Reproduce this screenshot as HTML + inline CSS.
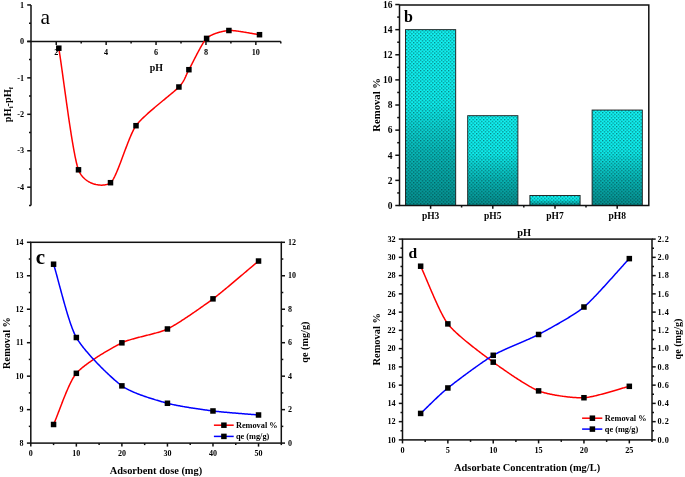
<!DOCTYPE html>
<html><head><meta charset="utf-8"><style>
html,body{margin:0;padding:0;background:#fff;}
body{width:685px;height:477px;overflow:hidden;}
svg{display:block;font-family:"Liberation Serif", serif;}
svg{will-change:transform;}
</style></head><body>
<svg width="685" height="477" viewBox="0 0 685 477">
<rect width="685" height="477" fill="#fff"/>
<line x1="31.00" y1="4.95" x2="31.00" y2="205.43" stroke="#111" stroke-width="1.5"/>
<line x1="27.20" y1="4.95" x2="31.00" y2="4.95" stroke="#111" stroke-width="1.5"/>
<text x="24.10" y="7.65" font-size="8.2" text-anchor="end" font-weight="bold">1</text>
<line x1="27.20" y1="41.40" x2="31.00" y2="41.40" stroke="#111" stroke-width="1.5"/>
<text x="24.10" y="44.10" font-size="8.2" text-anchor="end" font-weight="bold">0</text>
<line x1="27.20" y1="77.85" x2="31.00" y2="77.85" stroke="#111" stroke-width="1.5"/>
<text x="24.10" y="80.55" font-size="8.2" text-anchor="end" font-weight="bold">-1</text>
<line x1="27.20" y1="114.30" x2="31.00" y2="114.30" stroke="#111" stroke-width="1.5"/>
<text x="24.10" y="117.00" font-size="8.2" text-anchor="end" font-weight="bold">-2</text>
<line x1="27.20" y1="150.75" x2="31.00" y2="150.75" stroke="#111" stroke-width="1.5"/>
<text x="24.10" y="153.45" font-size="8.2" text-anchor="end" font-weight="bold">-3</text>
<line x1="27.20" y1="187.20" x2="31.00" y2="187.20" stroke="#111" stroke-width="1.5"/>
<text x="24.10" y="189.90" font-size="8.2" text-anchor="end" font-weight="bold">-4</text>
<line x1="29.00" y1="23.17" x2="31.00" y2="23.17" stroke="#111" stroke-width="1.5"/>
<line x1="29.00" y1="59.62" x2="31.00" y2="59.62" stroke="#111" stroke-width="1.5"/>
<line x1="29.00" y1="96.08" x2="31.00" y2="96.08" stroke="#111" stroke-width="1.5"/>
<line x1="29.00" y1="132.53" x2="31.00" y2="132.53" stroke="#111" stroke-width="1.5"/>
<line x1="29.00" y1="168.98" x2="31.00" y2="168.98" stroke="#111" stroke-width="1.5"/>
<line x1="29.00" y1="205.43" x2="31.00" y2="205.43" stroke="#111" stroke-width="1.5"/>
<line x1="27.20" y1="41.40" x2="280.80" y2="41.40" stroke="#111" stroke-width="1.5"/>
<line x1="56.25" y1="41.40" x2="56.25" y2="44.90" stroke="#111" stroke-width="1.5"/>
<text x="56.25" y="54.80" font-size="8.2" text-anchor="middle" font-weight="bold">2</text>
<line x1="106.15" y1="41.40" x2="106.15" y2="44.90" stroke="#111" stroke-width="1.5"/>
<text x="106.15" y="54.80" font-size="8.2" text-anchor="middle" font-weight="bold">4</text>
<line x1="156.05" y1="41.40" x2="156.05" y2="44.90" stroke="#111" stroke-width="1.5"/>
<text x="156.05" y="54.80" font-size="8.2" text-anchor="middle" font-weight="bold">6</text>
<line x1="205.95" y1="41.40" x2="205.95" y2="44.90" stroke="#111" stroke-width="1.5"/>
<text x="205.95" y="54.80" font-size="8.2" text-anchor="middle" font-weight="bold">8</text>
<line x1="255.85" y1="41.40" x2="255.85" y2="44.90" stroke="#111" stroke-width="1.5"/>
<text x="255.85" y="54.80" font-size="8.2" text-anchor="middle" font-weight="bold">10</text>
<line x1="81.20" y1="41.40" x2="81.20" y2="43.40" stroke="#111" stroke-width="1.5"/>
<line x1="131.10" y1="41.40" x2="131.10" y2="43.40" stroke="#111" stroke-width="1.5"/>
<line x1="181.00" y1="41.40" x2="181.00" y2="43.40" stroke="#111" stroke-width="1.5"/>
<line x1="230.90" y1="41.40" x2="230.90" y2="43.40" stroke="#111" stroke-width="1.5"/>
<line x1="280.80" y1="41.40" x2="280.80" y2="43.40" stroke="#111" stroke-width="1.5"/>
<text x="156.30" y="71.00" font-size="9.9" text-anchor="middle" font-weight="bold">pH</text>
<text x="0" y="0" font-size="10.4" font-weight="bold" text-anchor="middle" transform="translate(11.0 104.6) rotate(-90)">pH<tspan font-size="6.5" dy="2.4">i</tspan><tspan dy="-2.4">-pH</tspan><tspan font-size="6.5" dy="2.4">f</tspan></text>
<text x="40.40" y="23.80" font-size="21.5" text-anchor="start" font-weight="normal">a</text>
<path d="M58.80,48.20 L59.04,49.68 L59.28,51.25 L59.53,52.89 L59.79,54.61 L60.06,56.41 L60.33,58.26 L60.61,60.19 L60.90,62.18 L61.19,64.22 L61.49,66.32 L61.79,68.48 L62.10,70.68 L62.41,72.93 L62.73,75.22 L63.05,77.55 L63.38,79.92 L63.71,82.32 L64.04,84.74 L64.38,87.20 L64.72,89.68 L65.07,92.18 L65.42,94.69 L65.77,97.22 L66.13,99.76 L66.48,102.30 L66.84,104.85 L67.20,107.40 L67.56,109.95 L67.93,112.49 L68.29,115.02 L68.66,117.54 L69.03,120.04 L69.40,122.53 L69.77,124.99 L70.14,127.42 L70.51,129.83 L70.87,132.21 L71.24,134.55 L71.61,136.85 L71.98,139.11 L72.34,141.32 L72.71,143.49 L73.07,145.60 L73.43,147.66 L73.79,149.67 L74.15,151.61 L74.51,153.48 L74.86,155.29 L75.21,157.03 L75.55,158.70 L75.90,160.28 L76.24,161.79 L76.57,163.21 L76.91,164.55 L77.23,165.79 L77.56,166.94 L77.88,168.00 L78.19,168.95 L78.50,169.80 L78.50,169.80 L78.82,170.59 L79.16,171.35 L79.52,172.09 L79.90,172.81 L80.30,173.51 L80.72,174.18 L81.16,174.83 L81.62,175.46 L82.09,176.07 L82.58,176.66 L83.09,177.22 L83.61,177.77 L84.14,178.29 L84.68,178.80 L85.24,179.28 L85.81,179.74 L86.39,180.18 L86.98,180.60 L87.58,181.00 L88.19,181.39 L88.81,181.75 L89.43,182.09 L90.06,182.42 L90.69,182.72 L91.33,183.01 L91.97,183.27 L92.62,183.52 L93.27,183.75 L93.92,183.96 L94.57,184.16 L95.22,184.33 L95.88,184.49 L96.53,184.63 L97.17,184.76 L97.82,184.86 L98.46,184.95 L99.10,185.02 L99.73,185.08 L100.36,185.12 L100.97,185.14 L101.59,185.15 L102.19,185.14 L102.79,185.11 L103.37,185.07 L103.95,185.02 L104.51,184.95 L105.07,184.86 L105.61,184.76 L106.13,184.64 L106.65,184.51 L107.14,184.36 L107.63,184.20 L108.09,184.03 L108.54,183.84 L108.97,183.64 L109.38,183.43 L109.78,183.20 L110.15,182.96 L110.50,182.70 L110.50,182.70 L110.84,182.41 L111.20,182.06 L111.55,181.65 L111.92,181.18 L112.29,180.67 L112.67,180.10 L113.05,179.48 L113.44,178.81 L113.83,178.10 L114.23,177.34 L114.64,176.54 L115.04,175.70 L115.46,174.82 L115.88,173.90 L116.30,172.95 L116.72,171.97 L117.15,170.96 L117.59,169.91 L118.03,168.84 L118.47,167.75 L118.91,166.63 L119.36,165.49 L119.81,164.33 L120.26,163.16 L120.71,161.96 L121.17,160.76 L121.62,159.54 L122.08,158.31 L122.54,157.08 L123.00,155.84 L123.47,154.59 L123.93,153.34 L124.39,152.09 L124.86,150.85 L125.32,149.60 L125.79,148.36 L126.25,147.13 L126.72,145.91 L127.18,144.70 L127.64,143.50 L128.10,142.32 L128.56,141.15 L129.02,140.00 L129.48,138.87 L129.93,137.77 L130.39,136.68 L130.84,135.63 L131.29,134.60 L131.73,133.60 L132.18,132.64 L132.62,131.71 L133.05,130.81 L133.48,129.95 L133.91,129.14 L134.34,128.36 L134.76,127.62 L135.18,126.93 L135.59,126.29 L136.00,125.70 L136.00,125.70 L136.42,125.12 L136.88,124.53 L137.37,123.92 L137.90,123.30 L138.45,122.66 L139.03,122.01 L139.64,121.35 L140.28,120.68 L140.95,119.99 L141.64,119.29 L142.35,118.59 L143.08,117.87 L143.84,117.15 L144.61,116.42 L145.40,115.68 L146.21,114.93 L147.03,114.18 L147.87,113.42 L148.72,112.66 L149.59,111.90 L150.46,111.14 L151.34,110.37 L152.23,109.60 L153.13,108.83 L154.03,108.06 L154.94,107.29 L155.85,106.52 L156.76,105.76 L157.67,104.99 L158.58,104.23 L159.49,103.48 L160.40,102.73 L161.30,101.99 L162.19,101.25 L163.08,100.52 L163.96,99.80 L164.83,99.08 L165.68,98.38 L166.53,97.68 L167.36,97.00 L168.18,96.33 L168.98,95.67 L169.76,95.02 L170.53,94.39 L171.27,93.77 L172.00,93.17 L172.70,92.58 L173.37,92.01 L174.03,91.45 L174.65,90.91 L175.25,90.40 L175.82,89.90 L176.36,89.42 L176.87,88.96 L177.35,88.52 L177.79,88.11 L178.20,87.71 L178.57,87.34 L178.90,87.00 L178.90,87.00 L179.21,86.67 L179.51,86.34 L179.80,86.01 L180.08,85.69 L180.35,85.37 L180.62,85.05 L180.87,84.73 L181.12,84.42 L181.36,84.10 L181.60,83.79 L181.82,83.48 L182.04,83.17 L182.26,82.87 L182.46,82.56 L182.66,82.26 L182.85,81.96 L183.04,81.66 L183.23,81.36 L183.40,81.07 L183.57,80.77 L183.74,80.48 L183.90,80.19 L184.06,79.90 L184.22,79.61 L184.37,79.32 L184.51,79.03 L184.66,78.74 L184.80,78.45 L184.93,78.17 L185.07,77.88 L185.20,77.60 L185.33,77.32 L185.46,77.03 L185.59,76.75 L185.71,76.47 L185.84,76.19 L185.96,75.91 L186.08,75.63 L186.20,75.35 L186.32,75.07 L186.44,74.79 L186.57,74.51 L186.69,74.23 L186.81,73.95 L186.93,73.67 L187.06,73.39 L187.19,73.11 L187.31,72.82 L187.44,72.54 L187.58,72.26 L187.71,71.98 L187.85,71.70 L187.99,71.41 L188.13,71.13 L188.28,70.85 L188.43,70.56 L188.58,70.27 L188.74,69.99 L188.90,69.70 L188.90,69.70 L189.07,69.40 L189.25,69.07 L189.44,68.72 L189.64,68.34 L189.86,67.95 L190.08,67.53 L190.31,67.09 L190.55,66.62 L190.80,66.14 L191.05,65.65 L191.32,65.13 L191.59,64.60 L191.87,64.05 L192.15,63.49 L192.45,62.92 L192.75,62.33 L193.05,61.73 L193.36,61.12 L193.68,60.50 L194.00,59.87 L194.32,59.23 L194.65,58.59 L194.98,57.94 L195.32,57.29 L195.66,56.63 L196.00,55.97 L196.34,55.30 L196.69,54.64 L197.04,53.97 L197.39,53.31 L197.74,52.64 L198.09,51.98 L198.44,51.32 L198.79,50.67 L199.14,50.02 L199.49,49.38 L199.84,48.74 L200.19,48.11 L200.54,47.49 L200.88,46.88 L201.23,46.28 L201.57,45.70 L201.90,45.12 L202.24,44.56 L202.57,44.01 L202.89,43.48 L203.21,42.97 L203.53,42.47 L203.84,41.99 L204.15,41.53 L204.45,41.09 L204.74,40.67 L205.03,40.27 L205.31,39.90 L205.58,39.55 L205.85,39.22 L206.11,38.92 L206.36,38.65 L206.60,38.40 L206.60,38.40 L206.84,38.17 L207.10,37.94 L207.36,37.72 L207.64,37.49 L207.93,37.27 L208.22,37.06 L208.53,36.84 L208.84,36.63 L209.17,36.43 L209.50,36.22 L209.84,36.02 L210.19,35.82 L210.55,35.63 L210.91,35.44 L211.28,35.25 L211.65,35.07 L212.04,34.88 L212.43,34.71 L212.82,34.53 L213.22,34.36 L213.62,34.19 L214.03,34.02 L214.44,33.86 L214.85,33.70 L215.27,33.55 L215.69,33.40 L216.12,33.25 L216.54,33.11 L216.97,32.97 L217.40,32.83 L217.83,32.70 L218.26,32.57 L218.69,32.44 L219.12,32.32 L219.56,32.20 L219.99,32.08 L220.42,31.97 L220.84,31.86 L221.27,31.76 L221.70,31.66 L222.12,31.56 L222.54,31.47 L222.95,31.38 L223.37,31.29 L223.77,31.21 L224.18,31.14 L224.58,31.06 L224.97,30.99 L225.36,30.93 L225.75,30.87 L226.13,30.81 L226.50,30.76 L226.87,30.71 L227.22,30.66 L227.58,30.62 L227.92,30.58 L228.25,30.55 L228.58,30.52 L228.90,30.50 L228.90,30.50 L229.22,30.48 L229.57,30.47 L229.92,30.46 L230.30,30.47 L230.70,30.47 L231.11,30.49 L231.53,30.51 L231.97,30.53 L232.42,30.56 L232.89,30.60 L233.37,30.64 L233.87,30.69 L234.37,30.74 L234.89,30.79 L235.41,30.85 L235.95,30.91 L236.49,30.98 L237.05,31.05 L237.61,31.13 L238.18,31.21 L238.76,31.29 L239.34,31.37 L239.93,31.46 L240.52,31.55 L241.12,31.64 L241.72,31.73 L242.32,31.83 L242.93,31.92 L243.53,32.02 L244.14,32.12 L244.75,32.22 L245.36,32.32 L245.97,32.43 L246.58,32.53 L247.18,32.63 L247.78,32.74 L248.38,32.84 L248.98,32.94 L249.57,33.05 L250.15,33.15 L250.74,33.25 L251.31,33.35 L251.88,33.45 L252.44,33.55 L252.99,33.64 L253.53,33.74 L254.06,33.83 L254.59,33.92 L255.10,34.00 L255.60,34.09 L256.09,34.17 L256.57,34.25 L257.03,34.33 L257.48,34.40 L257.91,34.47 L258.33,34.53 L258.74,34.59 L259.13,34.65 L259.50,34.70" stroke="#ff0000" stroke-width="1.5" fill="none" stroke-linejoin="round"/>
<rect x="56.05" y="45.45" width="5.5" height="5.5" fill="#000"/>
<rect x="75.75" y="167.05" width="5.5" height="5.5" fill="#000"/>
<rect x="107.75" y="179.95" width="5.5" height="5.5" fill="#000"/>
<rect x="133.25" y="122.95" width="5.5" height="5.5" fill="#000"/>
<rect x="176.15" y="84.25" width="5.5" height="5.5" fill="#000"/>
<rect x="186.15" y="66.95" width="5.5" height="5.5" fill="#000"/>
<rect x="203.85" y="35.65" width="5.5" height="5.5" fill="#000"/>
<rect x="226.15" y="27.75" width="5.5" height="5.5" fill="#000"/>
<rect x="256.75" y="31.95" width="5.5" height="5.5" fill="#000"/>
<defs>
<linearGradient id="bg" x1="0" y1="0" x2="0" y2="1">
<stop offset="0" stop-color="#12f4f4"/>
<stop offset="0.42" stop-color="#0eeeee"/>
<stop offset="0.7" stop-color="#08b8b8"/>
<stop offset="1" stop-color="#068c8c"/>
</linearGradient>
<pattern id="dots" width="3.5" height="3.5" patternUnits="userSpaceOnUse">
<rect x="0" y="0" width="1.3" height="1.3" fill="#003333" fill-opacity="0.6"/>
<rect x="1.75" y="1.75" width="1.3" height="1.3" fill="#003333" fill-opacity="0.6"/>
</pattern>
</defs>
<rect x="405.50" y="29.66" width="50.2" height="175.84" fill="url(#bg)"/>
<rect x="405.50" y="29.66" width="50.2" height="175.84" fill="url(#dots)"/>
<rect x="405.50" y="29.66" width="50.2" height="175.84" fill="none" stroke="#1a1a1a" stroke-width="0.9"/>
<rect x="467.70" y="115.70" width="50.2" height="89.80" fill="url(#bg)"/>
<rect x="467.70" y="115.70" width="50.2" height="89.80" fill="url(#dots)"/>
<rect x="467.70" y="115.70" width="50.2" height="89.80" fill="none" stroke="#1a1a1a" stroke-width="0.9"/>
<rect x="529.90" y="195.45" width="50.2" height="10.05" fill="url(#bg)"/>
<rect x="529.90" y="195.45" width="50.2" height="10.05" fill="url(#dots)"/>
<rect x="529.90" y="195.45" width="50.2" height="10.05" fill="none" stroke="#1a1a1a" stroke-width="0.9"/>
<rect x="592.10" y="110.04" width="50.2" height="95.46" fill="url(#bg)"/>
<rect x="592.10" y="110.04" width="50.2" height="95.46" fill="url(#dots)"/>
<rect x="592.10" y="110.04" width="50.2" height="95.46" fill="none" stroke="#1a1a1a" stroke-width="0.9"/>
<rect x="399.5" y="5.0" width="249.30" height="200.50" fill="none" stroke="#111" stroke-width="1.5"/>
<line x1="395.30" y1="205.50" x2="399.50" y2="205.50" stroke="#111" stroke-width="1.5"/>
<text x="392.50" y="208.80" font-size="9.5" text-anchor="end" font-weight="bold">0</text>
<line x1="395.30" y1="180.38" x2="399.50" y2="180.38" stroke="#111" stroke-width="1.5"/>
<text x="392.50" y="183.68" font-size="9.5" text-anchor="end" font-weight="bold">2</text>
<line x1="395.30" y1="155.26" x2="399.50" y2="155.26" stroke="#111" stroke-width="1.5"/>
<text x="392.50" y="158.56" font-size="9.5" text-anchor="end" font-weight="bold">4</text>
<line x1="395.30" y1="130.14" x2="399.50" y2="130.14" stroke="#111" stroke-width="1.5"/>
<text x="392.50" y="133.44" font-size="9.5" text-anchor="end" font-weight="bold">6</text>
<line x1="395.30" y1="105.02" x2="399.50" y2="105.02" stroke="#111" stroke-width="1.5"/>
<text x="392.50" y="108.32" font-size="9.5" text-anchor="end" font-weight="bold">8</text>
<line x1="395.30" y1="79.90" x2="399.50" y2="79.90" stroke="#111" stroke-width="1.5"/>
<text x="392.50" y="83.20" font-size="9.5" text-anchor="end" font-weight="bold">10</text>
<line x1="395.30" y1="54.78" x2="399.50" y2="54.78" stroke="#111" stroke-width="1.5"/>
<text x="392.50" y="58.08" font-size="9.5" text-anchor="end" font-weight="bold">12</text>
<line x1="395.30" y1="29.66" x2="399.50" y2="29.66" stroke="#111" stroke-width="1.5"/>
<text x="392.50" y="32.96" font-size="9.5" text-anchor="end" font-weight="bold">14</text>
<line x1="395.30" y1="4.54" x2="399.50" y2="4.54" stroke="#111" stroke-width="1.5"/>
<text x="392.50" y="7.84" font-size="9.5" text-anchor="end" font-weight="bold">16</text>
<line x1="397.20" y1="192.94" x2="399.50" y2="192.94" stroke="#111" stroke-width="1.5"/>
<line x1="397.20" y1="167.82" x2="399.50" y2="167.82" stroke="#111" stroke-width="1.5"/>
<line x1="397.20" y1="142.70" x2="399.50" y2="142.70" stroke="#111" stroke-width="1.5"/>
<line x1="397.20" y1="117.58" x2="399.50" y2="117.58" stroke="#111" stroke-width="1.5"/>
<line x1="397.20" y1="92.46" x2="399.50" y2="92.46" stroke="#111" stroke-width="1.5"/>
<line x1="397.20" y1="67.34" x2="399.50" y2="67.34" stroke="#111" stroke-width="1.5"/>
<line x1="397.20" y1="42.22" x2="399.50" y2="42.22" stroke="#111" stroke-width="1.5"/>
<line x1="397.20" y1="17.10" x2="399.50" y2="17.10" stroke="#111" stroke-width="1.5"/>
<line x1="430.60" y1="205.50" x2="430.60" y2="208.80" stroke="#111" stroke-width="1.5"/>
<text x="430.60" y="219.40" font-size="9.5" text-anchor="middle" font-weight="bold">pH3</text>
<line x1="492.80" y1="205.50" x2="492.80" y2="208.80" stroke="#111" stroke-width="1.5"/>
<text x="492.80" y="219.40" font-size="9.5" text-anchor="middle" font-weight="bold">pH5</text>
<line x1="555.00" y1="205.50" x2="555.00" y2="208.80" stroke="#111" stroke-width="1.5"/>
<text x="555.00" y="219.40" font-size="9.5" text-anchor="middle" font-weight="bold">pH7</text>
<line x1="617.20" y1="205.50" x2="617.20" y2="208.80" stroke="#111" stroke-width="1.5"/>
<text x="617.20" y="219.40" font-size="9.5" text-anchor="middle" font-weight="bold">pH8</text>
<line x1="461.60" y1="205.50" x2="461.60" y2="207.50" stroke="#111" stroke-width="1.5"/>
<line x1="523.80" y1="205.50" x2="523.80" y2="207.50" stroke="#111" stroke-width="1.5"/>
<line x1="586.00" y1="205.50" x2="586.00" y2="207.50" stroke="#111" stroke-width="1.5"/>
<text x="524.20" y="236.30" font-size="10.3" text-anchor="middle" font-weight="bold">pH</text>
<text x="379.80" y="104.80" font-size="10.7" text-anchor="middle" font-weight="bold" transform="rotate(-90 379.80 104.80)">Removal %</text>
<text x="404.00" y="22.00" font-size="16" text-anchor="start" font-weight="bold">b</text>
<rect x="30.8" y="242.3" width="250.50" height="200.80" fill="none" stroke="#111" stroke-width="1.5"/>
<line x1="26.90" y1="443.10" x2="30.80" y2="443.10" stroke="#111" stroke-width="1.5"/>
<text x="23.60" y="445.70" font-size="8.0" text-anchor="end" font-weight="bold">8</text>
<line x1="26.90" y1="409.63" x2="30.80" y2="409.63" stroke="#111" stroke-width="1.5"/>
<text x="23.60" y="412.23" font-size="8.0" text-anchor="end" font-weight="bold">9</text>
<line x1="26.90" y1="376.17" x2="30.80" y2="376.17" stroke="#111" stroke-width="1.5"/>
<text x="23.60" y="378.77" font-size="8.0" text-anchor="end" font-weight="bold">10</text>
<line x1="26.90" y1="342.70" x2="30.80" y2="342.70" stroke="#111" stroke-width="1.5"/>
<text x="23.60" y="345.30" font-size="8.0" text-anchor="end" font-weight="bold">11</text>
<line x1="26.90" y1="309.23" x2="30.80" y2="309.23" stroke="#111" stroke-width="1.5"/>
<text x="23.60" y="311.83" font-size="8.0" text-anchor="end" font-weight="bold">12</text>
<line x1="26.90" y1="275.77" x2="30.80" y2="275.77" stroke="#111" stroke-width="1.5"/>
<text x="23.60" y="278.37" font-size="8.0" text-anchor="end" font-weight="bold">13</text>
<line x1="26.90" y1="242.30" x2="30.80" y2="242.30" stroke="#111" stroke-width="1.5"/>
<text x="23.60" y="244.90" font-size="8.0" text-anchor="end" font-weight="bold">14</text>
<line x1="28.80" y1="426.37" x2="30.80" y2="426.37" stroke="#111" stroke-width="1.5"/>
<line x1="28.80" y1="392.90" x2="30.80" y2="392.90" stroke="#111" stroke-width="1.5"/>
<line x1="28.80" y1="359.43" x2="30.80" y2="359.43" stroke="#111" stroke-width="1.5"/>
<line x1="28.80" y1="325.97" x2="30.80" y2="325.97" stroke="#111" stroke-width="1.5"/>
<line x1="28.80" y1="292.50" x2="30.80" y2="292.50" stroke="#111" stroke-width="1.5"/>
<line x1="28.80" y1="259.03" x2="30.80" y2="259.03" stroke="#111" stroke-width="1.5"/>
<line x1="281.30" y1="443.10" x2="285.00" y2="443.10" stroke="#111" stroke-width="1.5"/>
<text x="288.00" y="445.70" font-size="8.0" text-anchor="start" font-weight="bold">0</text>
<line x1="281.30" y1="409.63" x2="285.00" y2="409.63" stroke="#111" stroke-width="1.5"/>
<text x="288.00" y="412.23" font-size="8.0" text-anchor="start" font-weight="bold">2</text>
<line x1="281.30" y1="376.17" x2="285.00" y2="376.17" stroke="#111" stroke-width="1.5"/>
<text x="288.00" y="378.77" font-size="8.0" text-anchor="start" font-weight="bold">4</text>
<line x1="281.30" y1="342.70" x2="285.00" y2="342.70" stroke="#111" stroke-width="1.5"/>
<text x="288.00" y="345.30" font-size="8.0" text-anchor="start" font-weight="bold">6</text>
<line x1="281.30" y1="309.23" x2="285.00" y2="309.23" stroke="#111" stroke-width="1.5"/>
<text x="288.00" y="311.83" font-size="8.0" text-anchor="start" font-weight="bold">8</text>
<line x1="281.30" y1="275.77" x2="285.00" y2="275.77" stroke="#111" stroke-width="1.5"/>
<text x="288.00" y="278.37" font-size="8.0" text-anchor="start" font-weight="bold">10</text>
<line x1="281.30" y1="242.30" x2="285.00" y2="242.30" stroke="#111" stroke-width="1.5"/>
<text x="288.00" y="244.90" font-size="8.0" text-anchor="start" font-weight="bold">12</text>
<line x1="281.30" y1="426.37" x2="283.30" y2="426.37" stroke="#111" stroke-width="1.5"/>
<line x1="281.30" y1="392.90" x2="283.30" y2="392.90" stroke="#111" stroke-width="1.5"/>
<line x1="281.30" y1="359.43" x2="283.30" y2="359.43" stroke="#111" stroke-width="1.5"/>
<line x1="281.30" y1="325.97" x2="283.30" y2="325.97" stroke="#111" stroke-width="1.5"/>
<line x1="281.30" y1="292.50" x2="283.30" y2="292.50" stroke="#111" stroke-width="1.5"/>
<line x1="281.30" y1="259.03" x2="283.30" y2="259.03" stroke="#111" stroke-width="1.5"/>
<line x1="30.80" y1="443.10" x2="30.80" y2="446.60" stroke="#111" stroke-width="1.5"/>
<text x="30.80" y="456.10" font-size="8.0" text-anchor="middle" font-weight="bold">0</text>
<line x1="76.35" y1="443.10" x2="76.35" y2="446.60" stroke="#111" stroke-width="1.5"/>
<text x="76.35" y="456.10" font-size="8.0" text-anchor="middle" font-weight="bold">10</text>
<line x1="121.89" y1="443.10" x2="121.89" y2="446.60" stroke="#111" stroke-width="1.5"/>
<text x="121.89" y="456.10" font-size="8.0" text-anchor="middle" font-weight="bold">20</text>
<line x1="167.44" y1="443.10" x2="167.44" y2="446.60" stroke="#111" stroke-width="1.5"/>
<text x="167.44" y="456.10" font-size="8.0" text-anchor="middle" font-weight="bold">30</text>
<line x1="212.98" y1="443.10" x2="212.98" y2="446.60" stroke="#111" stroke-width="1.5"/>
<text x="212.98" y="456.10" font-size="8.0" text-anchor="middle" font-weight="bold">40</text>
<line x1="258.53" y1="443.10" x2="258.53" y2="446.60" stroke="#111" stroke-width="1.5"/>
<text x="258.53" y="456.10" font-size="8.0" text-anchor="middle" font-weight="bold">50</text>
<line x1="53.57" y1="443.10" x2="53.57" y2="445.10" stroke="#111" stroke-width="1.5"/>
<line x1="99.12" y1="443.10" x2="99.12" y2="445.10" stroke="#111" stroke-width="1.5"/>
<line x1="144.66" y1="443.10" x2="144.66" y2="445.10" stroke="#111" stroke-width="1.5"/>
<line x1="190.21" y1="443.10" x2="190.21" y2="445.10" stroke="#111" stroke-width="1.5"/>
<line x1="235.75" y1="443.10" x2="235.75" y2="445.10" stroke="#111" stroke-width="1.5"/>
<line x1="281.30" y1="443.10" x2="281.30" y2="445.10" stroke="#111" stroke-width="1.5"/>
<text x="156.00" y="473.70" font-size="10.4" text-anchor="middle" font-weight="bold">Adsorbent dose (mg)</text>
<text x="9.60" y="343.00" font-size="10.3" text-anchor="middle" font-weight="bold" transform="rotate(-90 9.60 343.00)">Removal %</text>
<text x="308.40" y="342.10" font-size="10.2" text-anchor="middle" font-weight="bold" transform="rotate(-90 308.40 342.10)">qe (mg/g)</text>
<text x="35.80" y="264.20" font-size="21" text-anchor="start" font-weight="bold">c</text>
<path d="M53.57,424.49 L53.85,423.87 L54.13,423.22 L54.41,422.54 L54.71,421.83 L55.01,421.10 L55.32,420.34 L55.63,419.56 L55.95,418.75 L56.28,417.92 L56.61,417.08 L56.94,416.21 L57.29,415.32 L57.63,414.42 L57.98,413.50 L58.34,412.56 L58.70,411.62 L59.07,410.65 L59.44,409.68 L59.82,408.70 L60.19,407.70 L60.58,406.70 L60.96,405.69 L61.35,404.68 L61.75,403.66 L62.14,402.63 L62.54,401.61 L62.95,400.58 L63.35,399.55 L63.76,398.52 L64.17,397.49 L64.58,396.46 L64.99,395.44 L65.41,394.42 L65.83,393.41 L66.25,392.41 L66.67,391.41 L67.09,390.43 L67.51,389.45 L67.94,388.49 L68.36,387.54 L68.79,386.60 L69.21,385.67 L69.64,384.77 L70.07,383.88 L70.49,383.01 L70.92,382.15 L71.34,381.32 L71.77,380.51 L72.19,379.72 L72.61,378.96 L73.03,378.22 L73.45,377.50 L73.87,376.81 L74.29,376.16 L74.71,375.53 L75.12,374.93 L75.53,374.36 L75.94,373.82 L76.35,373.32 L76.35,373.32 L76.77,372.83 L77.22,372.33 L77.70,371.82 L78.22,371.30 L78.76,370.78 L79.33,370.24 L79.92,369.69 L80.55,369.14 L81.19,368.59 L81.86,368.02 L82.55,367.45 L83.27,366.87 L84.00,366.29 L84.75,365.71 L85.52,365.12 L86.31,364.53 L87.12,363.93 L87.94,363.33 L88.77,362.73 L89.62,362.13 L90.48,361.53 L91.35,360.93 L92.23,360.33 L93.12,359.72 L94.01,359.12 L94.92,358.52 L95.83,357.93 L96.74,357.33 L97.66,356.74 L98.58,356.15 L99.51,355.57 L100.43,354.99 L101.35,354.41 L102.28,353.84 L103.20,353.28 L104.11,352.72 L105.03,352.17 L105.93,351.63 L106.83,351.10 L107.73,350.57 L108.61,350.05 L109.48,349.55 L110.35,349.05 L111.20,348.56 L112.04,348.08 L112.87,347.62 L113.68,347.17 L114.47,346.72 L115.25,346.30 L116.01,345.88 L116.76,345.48 L117.48,345.10 L118.18,344.72 L118.86,344.37 L119.52,344.03 L120.15,343.70 L120.76,343.40 L121.34,343.11 L121.89,342.83 L121.89,342.83 L122.44,342.57 L123.02,342.31 L123.61,342.06 L124.23,341.80 L124.87,341.55 L125.53,341.30 L126.20,341.06 L126.90,340.81 L127.61,340.57 L128.34,340.33 L129.08,340.09 L129.84,339.85 L130.61,339.62 L131.40,339.38 L132.20,339.15 L133.01,338.92 L133.83,338.69 L134.66,338.46 L135.50,338.23 L136.34,338.01 L137.20,337.78 L138.06,337.56 L138.93,337.33 L139.80,337.11 L140.68,336.89 L141.56,336.67 L142.45,336.44 L143.33,336.22 L144.22,336.00 L145.11,335.78 L145.99,335.56 L146.88,335.34 L147.77,335.12 L148.65,334.89 L149.52,334.67 L150.40,334.45 L151.27,334.23 L152.13,334.00 L152.98,333.78 L153.83,333.55 L154.67,333.32 L155.50,333.10 L156.32,332.87 L157.13,332.64 L157.93,332.41 L158.71,332.17 L159.49,331.94 L160.24,331.70 L160.99,331.47 L161.72,331.23 L162.43,330.99 L163.12,330.74 L163.80,330.50 L164.46,330.25 L165.09,330.00 L165.71,329.75 L166.31,329.50 L166.88,329.24 L167.44,328.98 L167.44,328.98 L167.99,328.71 L168.56,328.42 L169.16,328.11 L169.78,327.78 L170.42,327.43 L171.07,327.07 L171.75,326.68 L172.44,326.29 L173.16,325.87 L173.88,325.44 L174.63,325.00 L175.39,324.54 L176.16,324.07 L176.94,323.59 L177.74,323.10 L178.55,322.59 L179.37,322.08 L180.20,321.55 L181.04,321.01 L181.89,320.47 L182.74,319.92 L183.61,319.35 L184.48,318.79 L185.35,318.21 L186.23,317.63 L187.11,317.05 L187.99,316.46 L188.88,315.86 L189.77,315.27 L190.65,314.67 L191.54,314.06 L192.43,313.46 L193.31,312.86 L194.19,312.25 L195.07,311.65 L195.94,311.05 L196.81,310.44 L197.67,309.84 L198.53,309.25 L199.38,308.66 L200.22,308.07 L201.05,307.48 L201.87,306.90 L202.68,306.33 L203.47,305.76 L204.26,305.20 L205.03,304.65 L205.79,304.11 L206.53,303.57 L207.26,303.05 L207.97,302.53 L208.67,302.03 L209.34,301.54 L210.00,301.06 L210.64,300.59 L211.26,300.14 L211.86,299.70 L212.43,299.27 L212.98,298.86 L212.98,298.86 L213.53,298.44 L214.11,298.01 L214.71,297.55 L215.32,297.07 L215.96,296.58 L216.62,296.06 L217.30,295.52 L217.99,294.97 L218.70,294.40 L219.43,293.82 L220.17,293.22 L220.93,292.61 L221.70,291.98 L222.49,291.34 L223.29,290.68 L224.10,290.02 L224.92,289.34 L225.75,288.66 L226.59,287.96 L227.43,287.26 L228.29,286.55 L229.15,285.83 L230.02,285.10 L230.89,284.37 L231.77,283.64 L232.65,282.90 L233.54,282.15 L234.42,281.41 L235.31,280.66 L236.20,279.91 L237.09,279.16 L237.97,278.41 L238.86,277.67 L239.74,276.92 L240.62,276.18 L241.49,275.44 L242.36,274.70 L243.22,273.97 L244.07,273.25 L244.92,272.53 L245.76,271.82 L246.59,271.11 L247.41,270.42 L248.22,269.73 L249.02,269.05 L249.80,268.39 L250.58,267.73 L251.34,267.09 L252.08,266.46 L252.81,265.84 L253.52,265.24 L254.21,264.66 L254.89,264.09 L255.55,263.53 L256.19,263.00 L256.80,262.48 L257.40,261.98 L257.98,261.50 L258.53,261.04" stroke="#ff0000" stroke-width="1.5" fill="none" stroke-linejoin="round"/>
<path d="M53.57,264.22 L53.85,265.11 L54.13,266.04 L54.41,267.02 L54.71,268.03 L55.01,269.07 L55.32,270.16 L55.63,271.27 L55.95,272.42 L56.28,273.60 L56.61,274.81 L56.94,276.04 L57.29,277.30 L57.63,278.59 L57.98,279.90 L58.34,281.23 L58.70,282.58 L59.07,283.94 L59.44,285.33 L59.82,286.73 L60.19,288.14 L60.58,289.57 L60.96,291.00 L61.35,292.45 L61.75,293.90 L62.14,295.36 L62.54,296.82 L62.95,298.29 L63.35,299.76 L63.76,301.22 L64.17,302.69 L64.58,304.15 L64.99,305.61 L65.41,307.06 L65.83,308.50 L66.25,309.94 L66.67,311.36 L67.09,312.77 L67.51,314.17 L67.94,315.55 L68.36,316.91 L68.79,318.26 L69.21,319.58 L69.64,320.88 L70.07,322.16 L70.49,323.42 L70.92,324.65 L71.34,325.85 L71.77,327.02 L72.19,328.16 L72.61,329.26 L73.03,330.34 L73.45,331.37 L73.87,332.38 L74.29,333.34 L74.71,334.26 L75.12,335.14 L75.53,335.98 L75.94,336.77 L76.35,337.51 L76.35,337.51 L76.77,338.24 L77.22,339.00 L77.70,339.77 L78.22,340.56 L78.76,341.37 L79.33,342.19 L79.92,343.03 L80.55,343.89 L81.19,344.76 L81.86,345.64 L82.55,346.53 L83.27,347.44 L84.00,348.35 L84.75,349.28 L85.52,350.21 L86.31,351.15 L87.12,352.10 L87.94,353.05 L88.77,354.01 L89.62,354.97 L90.48,355.94 L91.35,356.91 L92.23,357.88 L93.12,358.84 L94.01,359.81 L94.92,360.78 L95.83,361.74 L96.74,362.70 L97.66,363.66 L98.58,364.61 L99.51,365.56 L100.43,366.50 L101.35,367.43 L102.28,368.35 L103.20,369.26 L104.11,370.16 L105.03,371.05 L105.93,371.93 L106.83,372.79 L107.73,373.64 L108.61,374.48 L109.48,375.30 L110.35,376.10 L111.20,376.88 L112.04,377.65 L112.87,378.39 L113.68,379.12 L114.47,379.82 L115.25,380.50 L116.01,381.16 L116.76,381.79 L117.48,382.40 L118.18,382.98 L118.86,383.53 L119.52,384.06 L120.15,384.56 L120.76,385.03 L121.34,385.47 L121.89,385.87 L121.89,385.87 L122.44,386.26 L123.02,386.65 L123.61,387.04 L124.23,387.42 L124.87,387.80 L125.53,388.18 L126.20,388.56 L126.90,388.94 L127.61,389.31 L128.34,389.68 L129.08,390.05 L129.84,390.42 L130.61,390.78 L131.40,391.15 L132.20,391.51 L133.01,391.86 L133.83,392.22 L134.66,392.57 L135.50,392.91 L136.34,393.26 L137.20,393.60 L138.06,393.94 L138.93,394.27 L139.80,394.60 L140.68,394.93 L141.56,395.25 L142.45,395.57 L143.33,395.89 L144.22,396.20 L145.11,396.51 L145.99,396.81 L146.88,397.11 L147.77,397.40 L148.65,397.69 L149.52,397.98 L150.40,398.26 L151.27,398.54 L152.13,398.81 L152.98,399.08 L153.83,399.34 L154.67,399.60 L155.50,399.85 L156.32,400.10 L157.13,400.34 L157.93,400.58 L158.71,400.81 L159.49,401.03 L160.24,401.25 L160.99,401.47 L161.72,401.67 L162.43,401.88 L163.12,402.07 L163.80,402.26 L164.46,402.45 L165.09,402.63 L165.71,402.80 L166.31,402.96 L166.88,403.12 L167.44,403.27 L167.44,403.27 L167.99,403.42 L168.56,403.57 L169.16,403.72 L169.78,403.88 L170.42,404.03 L171.07,404.18 L171.75,404.33 L172.44,404.49 L173.16,404.64 L173.88,404.79 L174.63,404.95 L175.39,405.10 L176.16,405.25 L176.94,405.41 L177.74,405.56 L178.55,405.71 L179.37,405.86 L180.20,406.02 L181.04,406.17 L181.89,406.32 L182.74,406.47 L183.61,406.62 L184.48,406.77 L185.35,406.91 L186.23,407.06 L187.11,407.21 L187.99,407.35 L188.88,407.50 L189.77,407.64 L190.65,407.78 L191.54,407.92 L192.43,408.06 L193.31,408.19 L194.19,408.33 L195.07,408.46 L195.94,408.59 L196.81,408.72 L197.67,408.85 L198.53,408.98 L199.38,409.10 L200.22,409.22 L201.05,409.34 L201.87,409.46 L202.68,409.58 L203.47,409.69 L204.26,409.80 L205.03,409.91 L205.79,410.01 L206.53,410.11 L207.26,410.21 L207.97,410.31 L208.67,410.40 L209.34,410.49 L210.00,410.58 L210.64,410.67 L211.26,410.75 L211.86,410.83 L212.43,410.90 L212.98,410.97 L212.98,410.97 L213.53,411.04 L214.11,411.11 L214.71,411.18 L215.32,411.25 L215.96,411.33 L216.62,411.40 L217.30,411.47 L217.99,411.54 L218.70,411.62 L219.43,411.69 L220.17,411.77 L220.93,411.84 L221.70,411.91 L222.49,411.99 L223.29,412.06 L224.10,412.14 L224.92,412.21 L225.75,412.29 L226.59,412.36 L227.43,412.44 L228.29,412.51 L229.15,412.59 L230.02,412.66 L230.89,412.74 L231.77,412.81 L232.65,412.88 L233.54,412.96 L234.42,413.03 L235.31,413.10 L236.20,413.18 L237.09,413.25 L237.97,413.32 L238.86,413.39 L239.74,413.46 L240.62,413.54 L241.49,413.61 L242.36,413.67 L243.22,413.74 L244.07,413.81 L244.92,413.88 L245.76,413.95 L246.59,414.01 L247.41,414.08 L248.22,414.14 L249.02,414.20 L249.80,414.27 L250.58,414.33 L251.34,414.39 L252.08,414.45 L252.81,414.51 L253.52,414.57 L254.21,414.62 L254.89,414.68 L255.55,414.73 L256.19,414.79 L256.80,414.84 L257.40,414.89 L257.98,414.94 L258.53,414.99" stroke="#0000ff" stroke-width="1.5" fill="none" stroke-linejoin="round"/>
<rect x="50.82" y="421.74" width="5.5" height="5.5" fill="#000"/>
<rect x="73.60" y="370.57" width="5.5" height="5.5" fill="#000"/>
<rect x="119.14" y="340.08" width="5.5" height="5.5" fill="#000"/>
<rect x="164.69" y="326.23" width="5.5" height="5.5" fill="#000"/>
<rect x="210.23" y="296.11" width="5.5" height="5.5" fill="#000"/>
<rect x="255.78" y="258.29" width="5.5" height="5.5" fill="#000"/>
<rect x="50.82" y="261.47" width="5.5" height="5.5" fill="#000"/>
<rect x="73.60" y="334.76" width="5.5" height="5.5" fill="#000"/>
<rect x="119.14" y="383.12" width="5.5" height="5.5" fill="#000"/>
<rect x="164.69" y="400.52" width="5.5" height="5.5" fill="#000"/>
<rect x="210.23" y="408.22" width="5.5" height="5.5" fill="#000"/>
<rect x="255.78" y="412.24" width="5.5" height="5.5" fill="#000"/>
<line x1="213.90" y1="425.20" x2="233.70" y2="425.20" stroke="#ff0000" stroke-width="1.5"/>
<rect x="221.15" y="422.45" width="5.5" height="5.5" fill="#000"/>
<text x="235.90" y="428.00" font-size="8.3" text-anchor="start" font-weight="bold">Removal %</text>
<line x1="213.90" y1="436.40" x2="233.70" y2="436.40" stroke="#0000ff" stroke-width="1.5"/>
<rect x="221.15" y="433.65" width="5.5" height="5.5" fill="#000"/>
<text x="235.90" y="439.20" font-size="8.3" text-anchor="start" font-weight="bold">qe (mg/g)</text>
<rect x="402.5" y="239.1" width="249.50" height="200.80" fill="none" stroke="#111" stroke-width="1.5"/>
<line x1="398.80" y1="439.90" x2="402.50" y2="439.90" stroke="#111" stroke-width="1.5"/>
<text x="395.60" y="442.60" font-size="8.2" text-anchor="end" font-weight="bold">10</text>
<line x1="398.80" y1="421.65" x2="402.50" y2="421.65" stroke="#111" stroke-width="1.5"/>
<text x="395.60" y="424.35" font-size="8.2" text-anchor="end" font-weight="bold">12</text>
<line x1="398.80" y1="403.39" x2="402.50" y2="403.39" stroke="#111" stroke-width="1.5"/>
<text x="395.60" y="406.09" font-size="8.2" text-anchor="end" font-weight="bold">14</text>
<line x1="398.80" y1="385.14" x2="402.50" y2="385.14" stroke="#111" stroke-width="1.5"/>
<text x="395.60" y="387.84" font-size="8.2" text-anchor="end" font-weight="bold">16</text>
<line x1="398.80" y1="366.88" x2="402.50" y2="366.88" stroke="#111" stroke-width="1.5"/>
<text x="395.60" y="369.58" font-size="8.2" text-anchor="end" font-weight="bold">18</text>
<line x1="398.80" y1="348.63" x2="402.50" y2="348.63" stroke="#111" stroke-width="1.5"/>
<text x="395.60" y="351.33" font-size="8.2" text-anchor="end" font-weight="bold">20</text>
<line x1="398.80" y1="330.37" x2="402.50" y2="330.37" stroke="#111" stroke-width="1.5"/>
<text x="395.60" y="333.07" font-size="8.2" text-anchor="end" font-weight="bold">22</text>
<line x1="398.80" y1="312.12" x2="402.50" y2="312.12" stroke="#111" stroke-width="1.5"/>
<text x="395.60" y="314.82" font-size="8.2" text-anchor="end" font-weight="bold">24</text>
<line x1="398.80" y1="293.86" x2="402.50" y2="293.86" stroke="#111" stroke-width="1.5"/>
<text x="395.60" y="296.56" font-size="8.2" text-anchor="end" font-weight="bold">26</text>
<line x1="398.80" y1="275.61" x2="402.50" y2="275.61" stroke="#111" stroke-width="1.5"/>
<text x="395.60" y="278.31" font-size="8.2" text-anchor="end" font-weight="bold">28</text>
<line x1="398.80" y1="257.35" x2="402.50" y2="257.35" stroke="#111" stroke-width="1.5"/>
<text x="395.60" y="260.05" font-size="8.2" text-anchor="end" font-weight="bold">30</text>
<line x1="398.80" y1="239.10" x2="402.50" y2="239.10" stroke="#111" stroke-width="1.5"/>
<text x="395.60" y="241.80" font-size="8.2" text-anchor="end" font-weight="bold">32</text>
<line x1="400.50" y1="430.77" x2="402.50" y2="430.77" stroke="#111" stroke-width="1.5"/>
<line x1="400.50" y1="412.52" x2="402.50" y2="412.52" stroke="#111" stroke-width="1.5"/>
<line x1="400.50" y1="394.26" x2="402.50" y2="394.26" stroke="#111" stroke-width="1.5"/>
<line x1="400.50" y1="376.01" x2="402.50" y2="376.01" stroke="#111" stroke-width="1.5"/>
<line x1="400.50" y1="357.75" x2="402.50" y2="357.75" stroke="#111" stroke-width="1.5"/>
<line x1="400.50" y1="339.50" x2="402.50" y2="339.50" stroke="#111" stroke-width="1.5"/>
<line x1="400.50" y1="321.25" x2="402.50" y2="321.25" stroke="#111" stroke-width="1.5"/>
<line x1="400.50" y1="302.99" x2="402.50" y2="302.99" stroke="#111" stroke-width="1.5"/>
<line x1="400.50" y1="284.74" x2="402.50" y2="284.74" stroke="#111" stroke-width="1.5"/>
<line x1="400.50" y1="266.48" x2="402.50" y2="266.48" stroke="#111" stroke-width="1.5"/>
<line x1="400.50" y1="248.23" x2="402.50" y2="248.23" stroke="#111" stroke-width="1.5"/>
<line x1="652.00" y1="439.90" x2="655.70" y2="439.90" stroke="#111" stroke-width="1.5"/>
<text x="657.40" y="442.60" font-size="8.2" text-anchor="start" font-weight="bold" letter-spacing="0.55">0.0</text>
<line x1="652.00" y1="421.65" x2="655.70" y2="421.65" stroke="#111" stroke-width="1.5"/>
<text x="657.40" y="424.35" font-size="8.2" text-anchor="start" font-weight="bold" letter-spacing="0.55">0.2</text>
<line x1="652.00" y1="403.39" x2="655.70" y2="403.39" stroke="#111" stroke-width="1.5"/>
<text x="657.40" y="406.09" font-size="8.2" text-anchor="start" font-weight="bold" letter-spacing="0.55">0.4</text>
<line x1="652.00" y1="385.14" x2="655.70" y2="385.14" stroke="#111" stroke-width="1.5"/>
<text x="657.40" y="387.84" font-size="8.2" text-anchor="start" font-weight="bold" letter-spacing="0.55">0.6</text>
<line x1="652.00" y1="366.88" x2="655.70" y2="366.88" stroke="#111" stroke-width="1.5"/>
<text x="657.40" y="369.58" font-size="8.2" text-anchor="start" font-weight="bold" letter-spacing="0.55">0.8</text>
<line x1="652.00" y1="348.63" x2="655.70" y2="348.63" stroke="#111" stroke-width="1.5"/>
<text x="657.40" y="351.33" font-size="8.2" text-anchor="start" font-weight="bold" letter-spacing="0.55">1.0</text>
<line x1="652.00" y1="330.37" x2="655.70" y2="330.37" stroke="#111" stroke-width="1.5"/>
<text x="657.40" y="333.07" font-size="8.2" text-anchor="start" font-weight="bold" letter-spacing="0.55">1.2</text>
<line x1="652.00" y1="312.12" x2="655.70" y2="312.12" stroke="#111" stroke-width="1.5"/>
<text x="657.40" y="314.82" font-size="8.2" text-anchor="start" font-weight="bold" letter-spacing="0.55">1.4</text>
<line x1="652.00" y1="293.86" x2="655.70" y2="293.86" stroke="#111" stroke-width="1.5"/>
<text x="657.40" y="296.56" font-size="8.2" text-anchor="start" font-weight="bold" letter-spacing="0.55">1.6</text>
<line x1="652.00" y1="275.61" x2="655.70" y2="275.61" stroke="#111" stroke-width="1.5"/>
<text x="657.40" y="278.31" font-size="8.2" text-anchor="start" font-weight="bold" letter-spacing="0.55">1.8</text>
<line x1="652.00" y1="257.35" x2="655.70" y2="257.35" stroke="#111" stroke-width="1.5"/>
<text x="657.40" y="260.05" font-size="8.2" text-anchor="start" font-weight="bold" letter-spacing="0.55">2.0</text>
<line x1="652.00" y1="239.10" x2="655.70" y2="239.10" stroke="#111" stroke-width="1.5"/>
<text x="657.40" y="241.80" font-size="8.2" text-anchor="start" font-weight="bold" letter-spacing="0.55">2.2</text>
<line x1="652.00" y1="430.77" x2="654.00" y2="430.77" stroke="#111" stroke-width="1.5"/>
<line x1="652.00" y1="412.52" x2="654.00" y2="412.52" stroke="#111" stroke-width="1.5"/>
<line x1="652.00" y1="394.26" x2="654.00" y2="394.26" stroke="#111" stroke-width="1.5"/>
<line x1="652.00" y1="376.01" x2="654.00" y2="376.01" stroke="#111" stroke-width="1.5"/>
<line x1="652.00" y1="357.75" x2="654.00" y2="357.75" stroke="#111" stroke-width="1.5"/>
<line x1="652.00" y1="339.50" x2="654.00" y2="339.50" stroke="#111" stroke-width="1.5"/>
<line x1="652.00" y1="321.25" x2="654.00" y2="321.25" stroke="#111" stroke-width="1.5"/>
<line x1="652.00" y1="302.99" x2="654.00" y2="302.99" stroke="#111" stroke-width="1.5"/>
<line x1="652.00" y1="284.74" x2="654.00" y2="284.74" stroke="#111" stroke-width="1.5"/>
<line x1="652.00" y1="266.48" x2="654.00" y2="266.48" stroke="#111" stroke-width="1.5"/>
<line x1="652.00" y1="248.23" x2="654.00" y2="248.23" stroke="#111" stroke-width="1.5"/>
<line x1="402.50" y1="439.90" x2="402.50" y2="443.40" stroke="#111" stroke-width="1.5"/>
<text x="402.50" y="452.70" font-size="8.2" text-anchor="middle" font-weight="bold">0</text>
<line x1="447.86" y1="439.90" x2="447.86" y2="443.40" stroke="#111" stroke-width="1.5"/>
<text x="447.86" y="452.70" font-size="8.2" text-anchor="middle" font-weight="bold">5</text>
<line x1="493.23" y1="439.90" x2="493.23" y2="443.40" stroke="#111" stroke-width="1.5"/>
<text x="493.23" y="452.70" font-size="8.2" text-anchor="middle" font-weight="bold">10</text>
<line x1="538.59" y1="439.90" x2="538.59" y2="443.40" stroke="#111" stroke-width="1.5"/>
<text x="538.59" y="452.70" font-size="8.2" text-anchor="middle" font-weight="bold">15</text>
<line x1="583.95" y1="439.90" x2="583.95" y2="443.40" stroke="#111" stroke-width="1.5"/>
<text x="583.95" y="452.70" font-size="8.2" text-anchor="middle" font-weight="bold">20</text>
<line x1="629.32" y1="439.90" x2="629.32" y2="443.40" stroke="#111" stroke-width="1.5"/>
<text x="629.32" y="452.70" font-size="8.2" text-anchor="middle" font-weight="bold">25</text>
<line x1="425.18" y1="439.90" x2="425.18" y2="441.90" stroke="#111" stroke-width="1.5"/>
<line x1="470.55" y1="439.90" x2="470.55" y2="441.90" stroke="#111" stroke-width="1.5"/>
<line x1="515.91" y1="439.90" x2="515.91" y2="441.90" stroke="#111" stroke-width="1.5"/>
<line x1="561.27" y1="439.90" x2="561.27" y2="441.90" stroke="#111" stroke-width="1.5"/>
<line x1="606.64" y1="439.90" x2="606.64" y2="441.90" stroke="#111" stroke-width="1.5"/>
<line x1="652.00" y1="439.90" x2="652.00" y2="441.90" stroke="#111" stroke-width="1.5"/>
<text x="527.10" y="470.50" font-size="10.4" text-anchor="middle" font-weight="bold">Adsorbate Concentration (mg/L)</text>
<text x="380.00" y="339.30" font-size="10.4" text-anchor="middle" font-weight="bold" transform="rotate(-90 380.00 339.30)">Removal %</text>
<text x="681.20" y="339.00" font-size="10.2" text-anchor="middle" font-weight="bold" transform="rotate(-90 681.20 339.00)">qe (mg/g)</text>
<text x="408.60" y="258.30" font-size="15.5" text-anchor="start" font-weight="bold">d</text>
<path d="M420.65,266.21 L420.97,266.91 L421.31,267.64 L421.66,268.41 L422.02,269.20 L422.38,270.03 L422.76,270.88 L423.14,271.76 L423.54,272.66 L423.94,273.59 L424.35,274.54 L424.76,275.51 L425.19,276.50 L425.62,277.51 L426.05,278.54 L426.50,279.59 L426.95,280.65 L427.40,281.73 L427.86,282.82 L428.33,283.92 L428.80,285.03 L429.28,286.15 L429.76,287.28 L430.24,288.42 L430.73,289.56 L431.22,290.71 L431.71,291.86 L432.21,293.01 L432.71,294.17 L433.21,295.32 L433.71,296.48 L434.22,297.63 L434.72,298.77 L435.23,299.92 L435.74,301.05 L436.25,302.18 L436.76,303.30 L437.27,304.41 L437.78,305.51 L438.29,306.59 L438.79,307.67 L439.30,308.73 L439.80,309.77 L440.31,310.79 L440.81,311.80 L441.30,312.79 L441.80,313.76 L442.29,314.70 L442.78,315.62 L443.27,316.52 L443.75,317.39 L444.23,318.24 L444.70,319.06 L445.17,319.84 L445.63,320.60 L446.09,321.33 L446.54,322.02 L446.99,322.68 L447.43,323.30 L447.86,323.89 L447.86,323.89 L448.31,324.47 L448.78,325.06 L449.29,325.66 L449.82,326.27 L450.38,326.90 L450.97,327.54 L451.58,328.18 L452.21,328.84 L452.87,329.51 L453.54,330.18 L454.24,330.86 L454.96,331.56 L455.70,332.25 L456.46,332.96 L457.23,333.67 L458.02,334.38 L458.82,335.10 L459.64,335.83 L460.47,336.56 L461.32,337.29 L462.17,338.02 L463.04,338.76 L463.91,339.50 L464.80,340.23 L465.68,340.97 L466.58,341.71 L467.48,342.45 L468.39,343.18 L469.30,343.91 L470.21,344.64 L471.12,345.37 L472.03,346.10 L472.94,346.82 L473.86,347.53 L474.76,348.24 L475.67,348.94 L476.57,349.64 L477.46,350.33 L478.35,351.01 L479.23,351.68 L480.10,352.35 L480.96,353.00 L481.82,353.65 L482.66,354.28 L483.48,354.90 L484.30,355.51 L485.10,356.11 L485.88,356.70 L486.65,357.27 L487.40,357.83 L488.14,358.37 L488.85,358.90 L489.55,359.42 L490.22,359.91 L490.87,360.39 L491.50,360.86 L492.10,361.30 L492.68,361.73 L493.23,362.14 L493.23,362.14 L493.78,362.54 L494.35,362.96 L494.94,363.39 L495.56,363.84 L496.19,364.30 L496.85,364.78 L497.52,365.26 L498.22,365.76 L498.92,366.26 L499.65,366.78 L500.39,367.30 L501.15,367.84 L501.92,368.38 L502.70,368.93 L503.49,369.48 L504.30,370.04 L505.12,370.61 L505.94,371.18 L506.78,371.75 L507.62,372.33 L508.47,372.92 L509.33,373.50 L510.20,374.08 L511.07,374.67 L511.94,375.26 L512.82,375.84 L513.70,376.43 L514.58,377.01 L515.47,377.59 L516.35,378.17 L517.23,378.75 L518.12,379.32 L519.00,379.89 L519.88,380.45 L520.75,381.00 L521.62,381.55 L522.48,382.09 L523.34,382.63 L524.20,383.15 L525.04,383.67 L525.88,384.17 L526.70,384.67 L527.52,385.15 L528.33,385.63 L529.12,386.09 L529.90,386.53 L530.67,386.97 L531.43,387.39 L532.17,387.79 L532.89,388.18 L533.60,388.55 L534.29,388.91 L534.97,389.25 L535.62,389.57 L536.26,389.87 L536.87,390.16 L537.47,390.42 L538.04,390.66 L538.59,390.89 L538.59,390.89 L539.14,391.10 L539.71,391.31 L540.31,391.51 L540.92,391.72 L541.56,391.92 L542.21,392.12 L542.89,392.32 L543.58,392.52 L544.29,392.71 L545.01,392.90 L545.75,393.09 L546.51,393.28 L547.28,393.47 L548.06,393.65 L548.86,393.83 L549.66,394.00 L550.48,394.18 L551.31,394.35 L552.14,394.52 L552.99,394.68 L553.84,394.84 L554.70,395.00 L555.56,395.15 L556.43,395.30 L557.31,395.45 L558.18,395.59 L559.06,395.73 L559.95,395.87 L560.83,396.00 L561.71,396.13 L562.60,396.25 L563.48,396.37 L564.36,396.49 L565.24,396.60 L566.11,396.71 L566.98,396.81 L567.85,396.91 L568.71,397.00 L569.56,397.09 L570.40,397.17 L571.24,397.25 L572.07,397.32 L572.88,397.39 L573.69,397.46 L574.48,397.51 L575.27,397.57 L576.04,397.61 L576.79,397.66 L577.53,397.69 L578.26,397.72 L578.97,397.75 L579.66,397.77 L580.33,397.78 L580.99,397.79 L581.62,397.79 L582.24,397.78 L582.83,397.77 L583.40,397.76 L583.95,397.73 L583.95,397.73 L584.50,397.70 L585.08,397.65 L585.67,397.59 L586.29,397.52 L586.92,397.44 L587.58,397.35 L588.25,397.24 L588.94,397.12 L589.65,397.00 L590.38,396.86 L591.12,396.72 L591.87,396.57 L592.64,396.40 L593.42,396.23 L594.22,396.05 L595.03,395.87 L595.84,395.68 L596.67,395.48 L597.51,395.27 L598.35,395.06 L599.20,394.84 L600.06,394.62 L600.93,394.39 L601.80,394.16 L602.67,393.92 L603.55,393.69 L604.43,393.44 L605.31,393.20 L606.19,392.95 L607.08,392.70 L607.96,392.45 L608.84,392.20 L609.73,391.94 L610.60,391.69 L611.48,391.44 L612.35,391.18 L613.21,390.93 L614.07,390.68 L614.92,390.43 L615.77,390.18 L616.60,389.93 L617.43,389.69 L618.25,389.45 L619.05,389.21 L619.85,388.98 L620.63,388.75 L621.40,388.52 L622.16,388.31 L622.90,388.09 L623.62,387.88 L624.33,387.68 L625.02,387.48 L625.70,387.29 L626.35,387.11 L626.99,386.94 L627.60,386.77 L628.20,386.61 L628.77,386.46 L629.32,386.32" stroke="#ff0000" stroke-width="1.5" fill="none" stroke-linejoin="round"/>
<path d="M420.65,413.43 L420.97,413.12 L421.31,412.80 L421.66,412.47 L422.02,412.13 L422.38,411.78 L422.76,411.42 L423.14,411.05 L423.54,410.67 L423.94,410.28 L424.35,409.89 L424.76,409.48 L425.19,409.07 L425.62,408.65 L426.05,408.22 L426.50,407.79 L426.95,407.35 L427.40,406.91 L427.86,406.46 L428.33,406.00 L428.80,405.54 L429.28,405.08 L429.76,404.61 L430.24,404.14 L430.73,403.66 L431.22,403.19 L431.71,402.71 L432.21,402.22 L432.71,401.74 L433.21,401.26 L433.71,400.77 L434.22,400.28 L434.72,399.80 L435.23,399.31 L435.74,398.83 L436.25,398.34 L436.76,397.86 L437.27,397.38 L437.78,396.90 L438.29,396.42 L438.79,395.95 L439.30,395.48 L439.80,395.01 L440.31,394.54 L440.81,394.08 L441.30,393.63 L441.80,393.18 L442.29,392.74 L442.78,392.30 L443.27,391.87 L443.75,391.44 L444.23,391.02 L444.70,390.61 L445.17,390.21 L445.63,389.81 L446.09,389.42 L446.54,389.05 L446.99,388.68 L447.43,388.32 L447.86,387.97 L447.86,387.97 L448.31,387.61 L448.78,387.23 L449.29,386.83 L449.82,386.42 L450.38,385.98 L450.97,385.52 L451.58,385.05 L452.21,384.56 L452.87,384.06 L453.54,383.54 L454.24,383.00 L454.96,382.45 L455.70,381.89 L456.46,381.31 L457.23,380.73 L458.02,380.13 L458.82,379.53 L459.64,378.91 L460.47,378.29 L461.32,377.66 L462.17,377.02 L463.04,376.37 L463.91,375.72 L464.80,375.07 L465.68,374.41 L466.58,373.75 L467.48,373.09 L468.39,372.42 L469.30,371.76 L470.21,371.09 L471.12,370.43 L472.03,369.76 L472.94,369.10 L473.86,368.45 L474.76,367.79 L475.67,367.15 L476.57,366.50 L477.46,365.87 L478.35,365.24 L479.23,364.61 L480.10,364.00 L480.96,363.40 L481.82,362.80 L482.66,362.22 L483.48,361.65 L484.30,361.09 L485.10,360.54 L485.88,360.01 L486.65,359.49 L487.40,358.99 L488.14,358.50 L488.85,358.03 L489.55,357.58 L490.22,357.15 L490.87,356.74 L491.50,356.34 L492.10,355.97 L492.68,355.62 L493.23,355.29 L493.23,355.29 L493.78,354.97 L494.35,354.65 L494.94,354.32 L495.56,353.99 L496.19,353.65 L496.85,353.31 L497.52,352.97 L498.22,352.62 L498.92,352.27 L499.65,351.91 L500.39,351.56 L501.15,351.20 L501.92,350.84 L502.70,350.47 L503.49,350.11 L504.30,349.74 L505.12,349.37 L505.94,349.00 L506.78,348.62 L507.62,348.25 L508.47,347.87 L509.33,347.50 L510.20,347.12 L511.07,346.74 L511.94,346.36 L512.82,345.98 L513.70,345.60 L514.58,345.23 L515.47,344.85 L516.35,344.47 L517.23,344.09 L518.12,343.71 L519.00,343.34 L519.88,342.96 L520.75,342.59 L521.62,342.22 L522.48,341.85 L523.34,341.48 L524.20,341.11 L525.04,340.75 L525.88,340.39 L526.70,340.03 L527.52,339.67 L528.33,339.32 L529.12,338.97 L529.90,338.62 L530.67,338.28 L531.43,337.94 L532.17,337.60 L532.89,337.27 L533.60,336.94 L534.29,336.61 L534.97,336.29 L535.62,335.98 L536.26,335.67 L536.87,335.36 L537.47,335.06 L538.04,334.77 L538.59,334.48 L538.59,334.48 L539.14,334.19 L539.71,333.88 L540.31,333.57 L540.92,333.24 L541.56,332.90 L542.21,332.55 L542.89,332.18 L543.58,331.81 L544.29,331.43 L545.01,331.04 L545.75,330.64 L546.51,330.23 L547.28,329.81 L548.06,329.38 L548.86,328.95 L549.66,328.50 L550.48,328.05 L551.31,327.60 L552.14,327.13 L552.99,326.66 L553.84,326.19 L554.70,325.71 L555.56,325.22 L556.43,324.73 L557.31,324.23 L558.18,323.73 L559.06,323.23 L559.95,322.72 L560.83,322.21 L561.71,321.69 L562.60,321.17 L563.48,320.66 L564.36,320.13 L565.24,319.61 L566.11,319.09 L566.98,318.56 L567.85,318.04 L568.71,317.51 L569.56,316.99 L570.40,316.46 L571.24,315.94 L572.07,315.41 L572.88,314.89 L573.69,314.37 L574.48,313.85 L575.27,313.34 L576.04,312.82 L576.79,312.31 L577.53,311.81 L578.26,311.30 L578.97,310.81 L579.66,310.31 L580.33,309.82 L580.99,309.34 L581.62,308.86 L582.24,308.39 L582.83,307.92 L583.40,307.46 L583.95,307.01 L583.95,307.01 L584.50,306.54 L585.08,306.04 L585.67,305.51 L586.29,304.95 L586.92,304.36 L587.58,303.74 L588.25,303.10 L588.94,302.43 L589.65,301.73 L590.38,301.01 L591.12,300.27 L591.87,299.51 L592.64,298.72 L593.42,297.92 L594.22,297.10 L595.03,296.25 L595.84,295.40 L596.67,294.53 L597.51,293.64 L598.35,292.74 L599.20,291.83 L600.06,290.90 L600.93,289.97 L601.80,289.03 L602.67,288.08 L603.55,287.12 L604.43,286.16 L605.31,285.19 L606.19,284.22 L607.08,283.25 L607.96,282.27 L608.84,281.30 L609.73,280.32 L610.60,279.35 L611.48,278.38 L612.35,277.41 L613.21,276.45 L614.07,275.49 L614.92,274.54 L615.77,273.60 L616.60,272.66 L617.43,271.74 L618.25,270.83 L619.05,269.93 L619.85,269.05 L620.63,268.17 L621.40,267.32 L622.16,266.48 L622.90,265.66 L623.62,264.85 L624.33,264.07 L625.02,263.31 L625.70,262.56 L626.35,261.85 L626.99,261.15 L627.60,260.48 L628.20,259.84 L628.77,259.22 L629.32,258.63" stroke="#0000ff" stroke-width="1.5" fill="none" stroke-linejoin="round"/>
<rect x="417.90" y="263.46" width="5.5" height="5.5" fill="#000"/>
<rect x="445.11" y="321.14" width="5.5" height="5.5" fill="#000"/>
<rect x="490.48" y="359.39" width="5.5" height="5.5" fill="#000"/>
<rect x="535.84" y="388.14" width="5.5" height="5.5" fill="#000"/>
<rect x="581.20" y="394.98" width="5.5" height="5.5" fill="#000"/>
<rect x="626.57" y="383.57" width="5.5" height="5.5" fill="#000"/>
<rect x="417.90" y="410.68" width="5.5" height="5.5" fill="#000"/>
<rect x="445.11" y="385.22" width="5.5" height="5.5" fill="#000"/>
<rect x="490.48" y="352.54" width="5.5" height="5.5" fill="#000"/>
<rect x="535.84" y="331.73" width="5.5" height="5.5" fill="#000"/>
<rect x="581.20" y="304.26" width="5.5" height="5.5" fill="#000"/>
<rect x="626.57" y="255.88" width="5.5" height="5.5" fill="#000"/>
<line x1="582.10" y1="418.20" x2="602.30" y2="418.20" stroke="#ff0000" stroke-width="1.5"/>
<rect x="589.65" y="415.45" width="5.5" height="5.5" fill="#000"/>
<text x="604.80" y="421.00" font-size="8.3" text-anchor="start" font-weight="bold">Removal %</text>
<line x1="582.10" y1="429.10" x2="602.30" y2="429.10" stroke="#0000ff" stroke-width="1.5"/>
<rect x="589.65" y="426.35" width="5.5" height="5.5" fill="#000"/>
<text x="604.80" y="431.90" font-size="8.3" text-anchor="start" font-weight="bold">qe (mg/g)</text>
</svg>
</body></html>
